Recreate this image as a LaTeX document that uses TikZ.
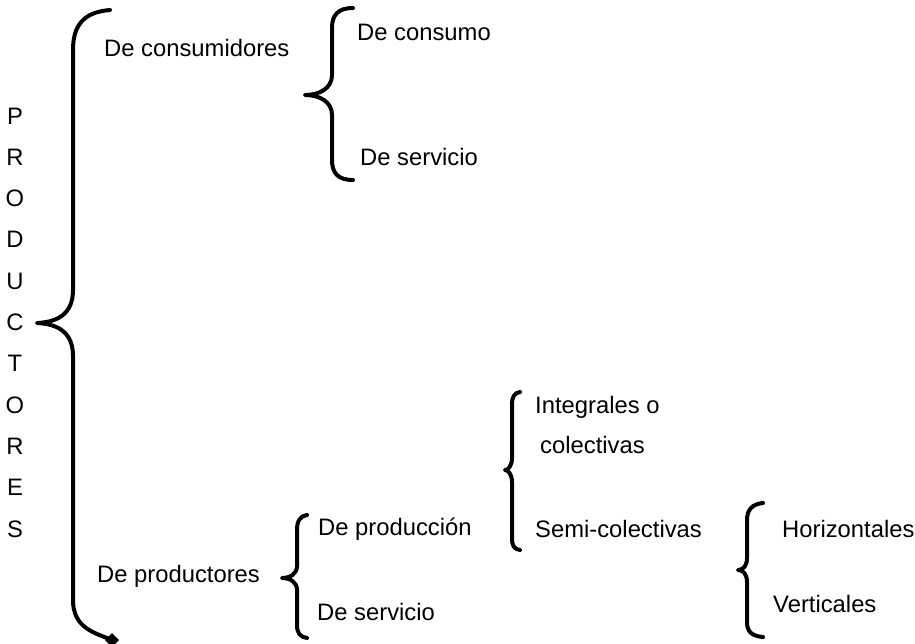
\documentclass[tikz,border=0pt]{standalone}
\usepackage{fontspec}
\setmainfont{Liberation Sans}
\usetikzlibrary{positioning}

\begin{document}
\begin{tikzpicture}[x=1pt,y=-1pt,every node/.append style={font=\fontsize{23.8}{28}\selectfont,
                    anchor=base west,inner sep=0pt},
                    llave/.style={line width=4pt,line cap=round,line join=round}]
    \useasboundingbox (0,0) rectangle (915,643);
    \foreach \l [count=\i from 0] in {P,R,O,D,U,C,T,O,R,E,S}
      \node[anchor=base] (l\i) at (15,124+41.3*\i) {\l};
    \draw[llave] (110,10) .. controls (84,12) and (73,25) .. (73,50) -- (73,290)
      .. controls (73,312) and (60,322) .. (37,323) .. controls (60,324) and (73,334) .. (73,356)
      -- (73,600) .. controls (73,625) and (90,632) .. (110,639);
    \fill (112,633) -- (119,640) -- (112,647) -- (105,640) -- cycle;
    \draw[llave] (353,8) .. controls (338,8) and (332,15) .. (332,28) -- (332,75)
      .. controls (332,88) and (320,95) .. (305,95) .. controls (320,95) and (332,102) .. (332,115)
      -- (332,160) .. controls (332,173) and (338,180) .. (353,180);
    \draw[llave] (520,392) .. controls (514,393) and (512,397) .. (512,405) -- (512,458)
      .. controls (512,466) and (508,470) .. (505,470) .. controls (508,470) and (512,474) .. (512,482)
      -- (512,538) .. controls (512,546) and (514,549) .. (520,550);
    \draw[llave] (763,503) .. controls (752,504) and (747,510) .. (747,520) -- (747,558)
      .. controls (747,566) and (743,570) .. (738,570) .. controls (743,570) and (747,574) .. (747,582)
      -- (747,622) .. controls (747,632) and (752,636) .. (763,637);
    \draw[llave] (307,515) .. controls (300,516) and (297,521) .. (297,530) -- (297,566)
      .. controls (297,574) and (290,578) .. (282,578) .. controls (290,578) and (297,582) .. (297,590)
      -- (297,625) .. controls (297,633) and (300,637) .. (307,638);
    \node (consumidores) at (104,56) {De consumidores};
    \node (consumo) at (357,40) {De consumo};
    \node (servicioA) at (360,165) {De servicio};
    \node (productores) at (97,582) {De productores};
    \node (produccion) at (318,535) {De producción};
    \node (servicioB) at (317,620) {De servicio};
    \node (integrales) at (535,413) {Integrales o};
    \node (colectivas) at (540,453) {colectivas};
    \node (semi) at (535,537) {Semi-colectivas};
    \node (horizontales) at (782,537) {Horizontales};
    \node (verticales) at (773,612) {Verticales};
\end{tikzpicture}
\end{document}
